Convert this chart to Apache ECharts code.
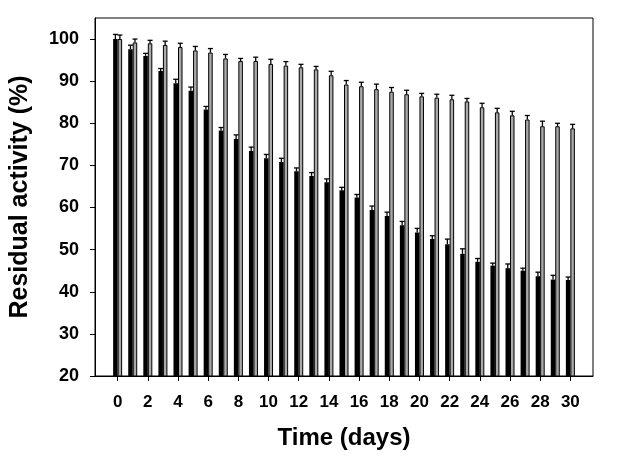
<!DOCTYPE html>
<html>
<head>
<meta charset="utf-8">
<script src="https://cdn.jsdelivr.net/npm/echarts@6/dist/echarts.min.js"></script>
<style>html,body{margin:0;padding:0;background:#fff;}#c{width:625px;height:463px;}</style>
</head>
<body>
<div id="c"></div>
<script>
const days = [0,1,2,3,4,5,6,7,8,9,10,11,12,13,14,15,16,17,18,19,20,21,22,23,24,25,26,27,28,29,30];
const blackValues = [100, 97.6, 96.0, 92.4, 89.5, 87.7, 83.3, 78.3, 76.3, 73.4, 71.7, 70.8, 68.6, 67.5, 66.0, 64.1, 62.4, 59.4, 58.0, 55.8, 54.1, 52.5, 51.3, 49.0, 47.1, 46.2, 45.6, 45.0, 43.7, 42.9, 42.8];
const blackErrors = [1.1, 0.95, 0.6, 0.6, 0.95, 0.9, 0.7, 0.7, 0.95, 0.95, 0.9, 0.9, 0.8, 0.8, 0.8, 0.7, 0.7, 0.95, 0.9, 0.9, 0.95, 0.8, 1.2, 1.2, 0.8, 0.6, 1.0, 0.6, 0.95, 1.0, 0.7];
const grayValues = [100, 99.2, 99.0, 98.6, 98.1, 97.3, 96.8, 95.4, 94.8, 94.8, 94.1, 93.7, 93.3, 92.8, 91.4, 89.2, 88.8, 88.1, 87.5, 86.9, 86.4, 86.1, 85.7, 85.2, 83.8, 82.6, 81.9, 80.9, 79.3, 79.3, 78.8];
const grayErrors = [0.95, 0.8, 0.7, 0.9, 0.9, 0.95, 0.95, 0.95, 0.6, 0.9, 1.1, 0.95, 0.7, 0.7, 0.95, 0.95, 0.95, 1.2, 1.0, 0.95, 0.7, 0.8, 0.95, 0.7, 0.95, 0.95, 0.95, 0.95, 1.2, 0.7, 0.95];
const xTickLabels = [0,2,4,6,8,10,12,14,16,18,20,22,24,26,28,30];
const yTickLabels = [20,30,40,50,60,70,80,90,100];

const FONT = 'Liberation Sans, Arial, sans-serif';
const BAR_W = 4.5;

function errRender(dx) {
  return function (params, api) {
    const x = api.value(0), v = api.value(1), e = api.value(2);
    const base = api.coord([x, v]);
    const top = api.coord([x, v + e]);
    const cx = base[0] + dx;
    const st = { stroke: '#000', lineWidth: 1.3 };
    return {
      type: 'group',
      children: [
        { type: 'line', shape: { x1: cx, y1: base[1], x2: cx, y2: top[1] }, style: st },
        { type: 'line', shape: { x1: cx - 2.5, y1: top[1], x2: cx + 2.5, y2: top[1] }, style: st }
      ]
    };
  };
}

const chart = echarts.init(document.getElementById('c'));
chart.setOption({
  animation: false,
  backgroundColor: '#fff',
  grid: { left: 95, top: 18, right: 32, bottom: 87, show: true, borderColor: '#000', borderWidth: 1, backgroundColor: 'transparent' },
  xAxis: {
    type: 'value', min: -1.5, max: 31.5,
    name: 'Time (days)', nameLocation: 'middle', nameGap: 50,
    nameTextStyle: { fontFamily: FONT, fontSize: 24, fontWeight: 'bold', color: '#000' },
    axisLine: { show: true, onZero: false, lineStyle: { color: '#000', width: 1 } },
    axisTick: { show: true, inside: false, length: 5, lineStyle: { color: '#000' }, customValues: xTickLabels },
    axisLabel: { margin: 18, fontFamily: FONT, fontSize: 17, fontWeight: 'bold', color: '#000', customValues: xTickLabels },
    splitLine: { show: false }
  },
  yAxis: {
    type: 'value', min: 20, max: 105,
    name: 'Residual activity (%)', nameLocation: 'middle', nameGap: 62, nameRotate: 90,
    nameTextStyle: { fontFamily: FONT, fontSize: 25, fontWeight: 'bold', color: '#000' },
    axisLine: { show: true, onZero: false, lineStyle: { color: '#000', width: 1 } },
    axisTick: { show: true, inside: false, length: 5, lineStyle: { color: '#000' }, customValues: yTickLabels },
    axisLabel: { margin: 16, fontFamily: FONT, fontSize: 18, fontWeight: 'bold', color: '#000', customValues: yTickLabels },
    splitLine: { show: false }
  },
  series: [
    {
      type: 'bar', name: 'A', barWidth: BAR_W, barGap: '0%',
      data: days.map((d, i) => [d, blackValues[i]]),
      itemStyle: { color: '#000', borderColor: '#000', borderWidth: 0 }
    },
    {
      type: 'bar', name: 'B', barWidth: BAR_W, barGap: '0%',
      data: days.map((d, i) => [d, grayValues[i]]),
      itemStyle: { color: '#a9a9a9', borderColor: '#000', borderWidth: 1 }
    },
    {
      type: 'custom', renderItem: errRender(-BAR_W / 2), z: 5,
      data: days.map((d, i) => [d, blackValues[i], blackErrors[i]])
    },
    {
      type: 'custom', renderItem: errRender(BAR_W / 2), z: 5,
      data: days.map((d, i) => [d, grayValues[i], grayErrors[i]])
    }
  ]
});
</script>
</body>
</html>
